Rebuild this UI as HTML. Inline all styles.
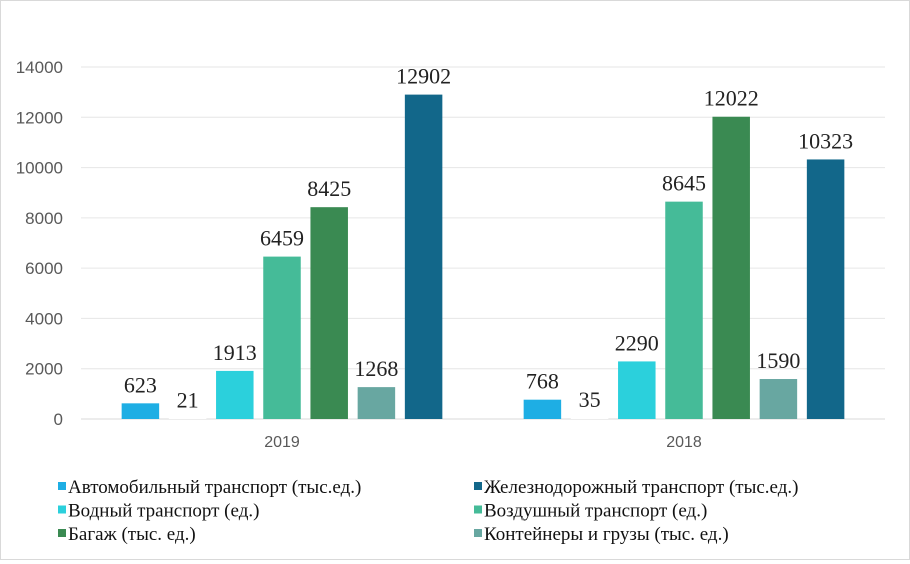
<!DOCTYPE html>
<html><head><meta charset="utf-8"><style>
body{margin:0;background:#fff}
#wrap{position:relative;width:908px;height:558px;border:1px solid #d9d9d9;background:#fff;font-family:"Liberation Serif",serif}
svg text{font-family:"Liberation Sans",sans-serif}
</style></head><body>
<div id="wrap">
<svg id="chart" width="908" height="558"></svg>
</div>
<script>
const categories = ["2019","2018"];
const seriesNames = ["Автомобильный транспорт (тыс.ед.)","Прочее","Водный транспорт (ед.)","Воздушный транспорт (ед.)","Багаж (тыс. ед.)","Контейнеры и грузы (тыс. ед.)","Железнодорожный транспорт (тыс.ед.)"];
const seriesColors = ["#1eaee4","#ffffff","#2bd0dc","#45bb98","#3a8a52","#68a7a1","#12678a"];
const values2019 = [623,21,1913,6459,8425,1268,12902];
const values2018 = [768,35,2290,8645,12022,1590,10323];
const yTicks = [0,2000,4000,6000,8000,10000,12000,14000];
const NS="http://www.w3.org/2000/svg";
const svg=document.getElementById('chart');
const x0=80,x1=884,yTop=66,yBot=418,yMax=14000;
const y=v=>yBot-(v/yMax)*(yBot-yTop);
const catW=(x1-x0)/categories.length;
const pitch=47.2,barW=37.5;
function mk(t,a){const e=document.createElementNS(NS,t);for(const k in a)e.setAttribute(k,a[k]);svg.appendChild(e);return e;}
yTicks.forEach(t=>{
 const l=mk('line',{x1:x0,x2:x1,y1:y(t),y2:y(t),stroke:t===0?'#d9d9d9':'#e6e6e6','stroke-width':1});
 
 
 const tx=mk('text',{x:62,y:y(t)+6,'text-anchor':'end','font-size':17,fill:'#595959'});
 tx.textContent=t;
 
 
});
const all=[values2019,values2018];
categories.forEach((c,ci)=>{
 const cx=x0+catW*(ci+0.5);
 const n=seriesNames.length;
 all[ci].forEach((v,si)=>{
  const bx=cx+(si-(n-1)/2)*pitch-barW/2;
  const r=mk('rect',{x:bx,y:y(v),width:barW,height:yBot-y(v),fill:seriesColors[si]});
  
  
  const t=mk('text',{x:bx+barW/2,y:y(v)-11,'text-anchor':'middle','font-size':22,fill:'#222'});
  t.style.fontFamily='"Liberation Serif",serif';
  t.textContent=v;
  
  
 });
 const ct=mk('text',{x:cx,y:446,'text-anchor':'middle','font-size':16,fill:'#595959'});
 ct.textContent=c;
 
 
});
const legendOrder=[0,6,2,3,4,5];
legendOrder.forEach((si,i)=>{
 const col=i%2,row=Math.floor(i/2);
 const lx=col?473:57,ly=486+row*23.5;
 const r=mk('rect',{x:lx,y:ly-5,width:8,height:8,fill:seriesColors[si]});
 
 
 const t=mk('text',{x:lx+10,y:ly+6,'font-size':19,fill:'#111'});
 t.style.fontFamily='"Liberation Serif",serif';
 t.textContent=seriesNames[si];
 
 
});
</script>
</body></html>
